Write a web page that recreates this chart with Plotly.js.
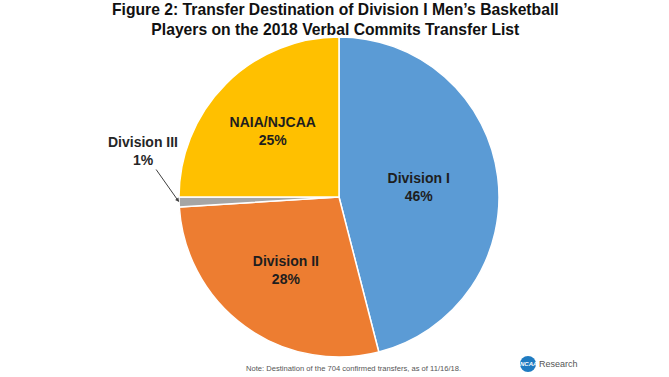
<!DOCTYPE html>
<html>
<head>
<meta charset="utf-8">
<script src="https://cdn.plot.ly/plotly-3.0.1.min.js"></script>
<style>html,body{margin:0;padding:0;background:#fff;}#chart{width:669px;height:377px;}</style>
</head>
<body>
<div id="chart"></div>
<script>
var categories = ["Division I", "Division II", "Division III", "NAIA/NJCAA"];
var shares = [46, 28, 1, 25];
var sliceColors = ["#5B9BD5", "#ED7D31", "#A5A5A5", "#FFC000"];
var titleLines = ["Figure 2: Transfer Destination of Division I Men’s Basketball", "Players on the 2018 Verbal Commits Transfer List"];
var noteText = "Note: Destination of the 704 confirmed transfers, as of 11/16/18.";

var W = 669, H = 377;
var cx = 339, cy = 197, R = 160;
var domX = [(cx - R) / W, (cx + R) / W];
var domY = [(H - cy - R) / H, (H - cy + R) / H];

var textPos = categories.map(function (c, i) { return shares[i] < 5 ? "none" : "inside"; });

var trace = {
  type: "pie",
  labels: categories,
  values: shares,
  sort: false,
  direction: "clockwise",
  rotation: 0,
  domain: { x: domX, y: domY },
  marker: { colors: sliceColors, line: { color: "#ffffff", width: 1.5 } },
  texttemplate: "<b>%{label}<br>%{value}%</b>",
  textposition: textPos,
  insidetextorientation: "horizontal",
  textfont: { family: "Liberation Sans, Arial, sans-serif", size: 14, color: "#1e1e1e" },
  hoverinfo: "none",
  showlegend: false
};

var total = shares.reduce(function (a, b) { return a + b; }, 0);
var anns = [];
var cum = 0;
for (var i = 0; i < shares.length; i++) {
  var mid = (cum + shares[i] / 2) / total * 2 * Math.PI;
  cum += shares[i];
  if (shares[i] < 5) {
    var px = cx + R * Math.sin(mid);
    var py = cy - R * Math.cos(mid);
    anns.push({
      xref: "paper", yref: "paper",
      x: px / W, y: (H - py) / H,
      text: "<b>" + categories[i] + "<br>" + shares[i] + "%</b>",
      showarrow: true, arrowhead: 2, arrowsize: 0.8, arrowwidth: 1, arrowcolor: "#404040",
      ax: -36, ay: -51,
      font: { family: "Liberation Sans, Arial, sans-serif", size: 14, color: "#262626" },
      align: "center"
    });
  }
}

anns.push({
  xref: "paper", yref: "paper", x: 335 / W, y: 1, xanchor: "center", yanchor: "top", yshift: 1,
  text: "<b>" + titleLines.join("<br>") + "</b>", showarrow: false,
  font: { family: "Liberation Sans Narrow, Arial Narrow, sans-serif", size: 15.7, color: "#111111" }
});
anns.push({
  xref: "paper", yref: "paper", x: 353 / W, y: (H - 368) / H, xanchor: "center", yanchor: "middle",
  text: noteText, showarrow: false,
  font: { family: "Liberation Sans Narrow, Arial, sans-serif", size: 7.6, color: "#555555" }
});
anns.push({
  xref: "paper", yref: "paper", x: 528 / W, y: (H - 364) / H, xanchor: "center", yanchor: "middle",
  text: "<b><i>NCAA</i></b>", showarrow: false,
  font: { family: "Liberation Sans Narrow, Arial, sans-serif", size: 6, color: "#ffffff" }
});
anns.push({
  xref: "paper", yref: "paper", x: 537 / W, y: (H - 364) / H, xanchor: "left", yanchor: "middle",
  text: "Research", showarrow: false,
  font: { family: "Liberation Sans Narrow, Arial, sans-serif", size: 9, color: "#555555" }
});

var layout = {
  width: W, height: H,
  margin: { l: 0, r: 0, t: 0, b: 0 },
  paper_bgcolor: "#ffffff",
  shapes: [{
    type: "circle", xref: "paper", yref: "paper",
    x0: 520 / W, x1: 536 / W, y0: (H - 372) / H, y1: (H - 356) / H,
    fillcolor: "#1F7BC1", line: { width: 0 }
  }],
  annotations: anns
};

Plotly.newPlot("chart", [trace], layout, { staticPlot: true, displayModeBar: false });
</script>
</body>
</html>
